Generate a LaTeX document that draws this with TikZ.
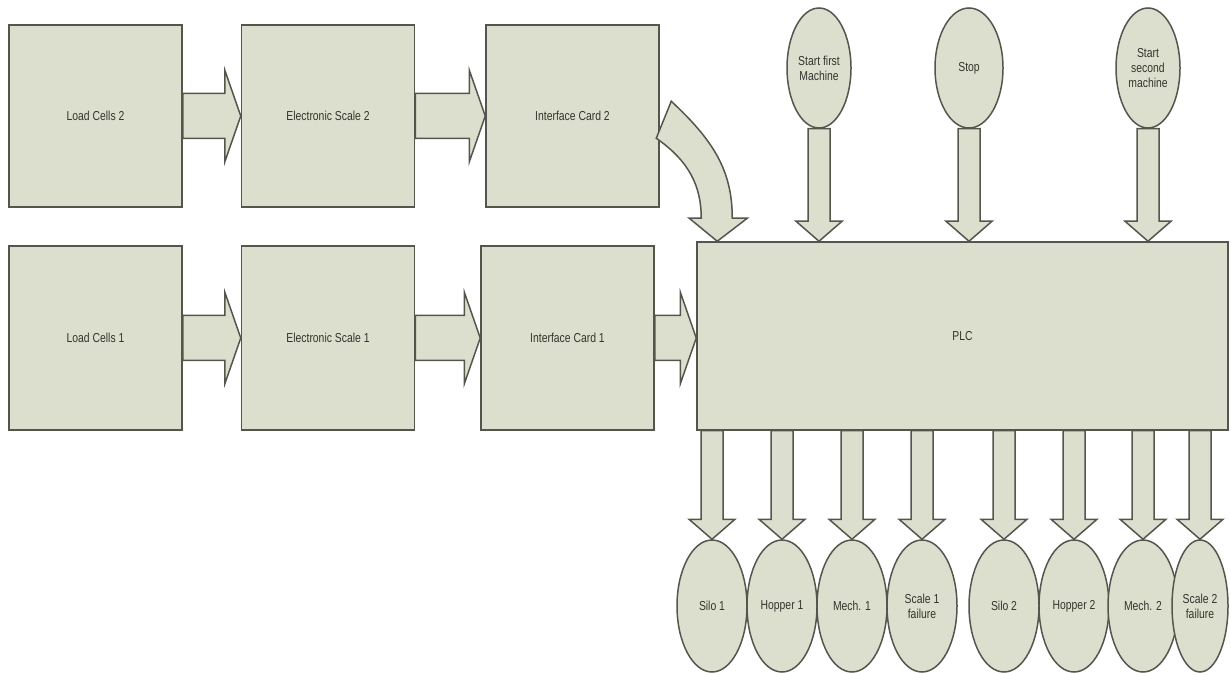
\documentclass[tikz,border=0pt]{standalone}
\usepackage{fontspec}
\newfontfamily\narrowsans[FakeStretch=0.8]{Liberation Sans}
\usetikzlibrary{positioning,shapes.geometric,calc}
\definecolor{boxfill}{RGB}{221,223,206}
\definecolor{boxline}{RGB}{84,86,78}
\definecolor{boxtext}{RGB}{50,52,46}
\tikzset{
  blk/.style={draw=boxline,fill=boxfill,line width=0.75pt,line join=miter},
  blockbox/.style={blk,minimum width=86.5pt,minimum height=91pt,inner sep=1pt,text=boxtext,font=\narrowsans\fontsize{6.5}{7.5}\selectfont},
  lamp/.style={blockbox,ellipse,minimum width=32pt,minimum height=60pt,inner sep=0pt,align=center},
  fatright/.style={blk,to path={let \p1=(\tikztostart),\p2=(\tikztotarget) in
    (\x1,\y1+11.25pt) -- (\x2-8pt,\y1+11.25pt) -- (\x2-8pt,\y1+23pt) -- (\x2,\y1)
    -- (\x2-8pt,\y1-23pt) -- (\x2-8pt,\y1-11.25pt) -- (\x1,\y1-11.25pt) -- cycle}},
  fatdown/.style={blk,to path={let \p1=(\tikztostart),\p2=(\tikztotarget) in
    (\x1-5.5pt,\y1) -- (\x1-5.5pt,\y2+10pt) -- (\x1-11.5pt,\y2+10pt) -- (\x1,\y2)
    -- (\x1+11.5pt,\y2+10pt) -- (\x1+5.5pt,\y2+10pt) -- (\x1+5.5pt,\y1) -- cycle}}
}
\begin{document}
\begin{tikzpicture}[x=0.5pt,y=-0.5pt]
\useasboundingbox (0,0) rectangle (1231,673);
% weighing chains
\node[blockbox] (lc2) at (95.5,116) {Load Cells 2};
\node[blockbox,right=29pt of lc2] (es2) {Electronic Scale 2};
\node[blockbox,right=35pt of es2] (ic2) {Interface Card 2};
\node[blockbox,minimum height=92pt] (lc1) at (95.5,338) {Load Cells 1};
\node[blockbox,minimum height=92pt,right=29pt of lc1] (es1) {Electronic Scale 1};
\node[blockbox,minimum height=92pt,right=32.5pt of es1] (ic1) {Interface Card 1};
\node[blockbox,minimum width=265.5pt,minimum height=94pt] (plc) at (962.5,336) {PLC};
% push buttons
\node[lamp] (sfm) at (819,68) {Start first\\Machine};
\node[lamp,minimum width=34pt] (stp) at (969,68) {Stop};
\node[lamp] (ssm) at (1148,68) {Start\\second\\machine};
% outputs
\node[lamp,minimum width=35pt,minimum height=66pt] (s1) at (712,606) {Silo 1};
\node[lamp,minimum width=35pt,minimum height=66pt] (h1) at (782,606) {Hopper 1};
\node[lamp,minimum width=35pt,minimum height=66pt] (m1) at (852,606) {Mech. 1};
\node[lamp,minimum width=35pt,minimum height=66pt] (f1) at (922,606) {Scale 1\\failure};
\node[lamp,minimum width=35pt,minimum height=66pt] (s2) at (1004,606) {Silo 2};
\node[lamp,minimum width=35pt,minimum height=66pt] (h2) at (1074,606) {Hopper 2};
\node[lamp,minimum width=35pt,minimum height=66pt] (m2) at (1143,606) {Mech. 2};
\node[lamp,minimum width=28pt,minimum height=66pt] (f2) at (1200,606) {Scale 2\\failure};
% block arrows
\draw[fatright] (lc2.east) to (es2.west);
\draw[fatright] (es2.east) to (ic2.west);
\draw[fatright] (lc1.east) to (es1.west);
\draw[fatright] (es1.east) to (ic1.west);
\draw[fatright] (ic1.east) to (plc.west);
\foreach \b in {sfm,stp,ssm}
  \draw[fatdown] (\b.south) to (\b.south |- plc.north);
\foreach \b in {s1,h1,m1,f1,s2,h2,m2,f2}
  \draw[fatdown] (plc.south -| \b.north) to (\b.north);
% bent arrow from card 2
\coordinate (ctip) at ([xshift=10.5pt]plc.north west);
\draw[blk,shift={(ctip)}] (-46,-140) .. controls (-3,-100) and (15,-70) .. (15,-23)
  -- (30,-23) -- (0,0) -- (-28,-23) -- (-16,-23)
  .. controls (-16,-55) and (-28,-80) .. (-61,-103) -- cycle;
\end{tikzpicture}
\end{document}
